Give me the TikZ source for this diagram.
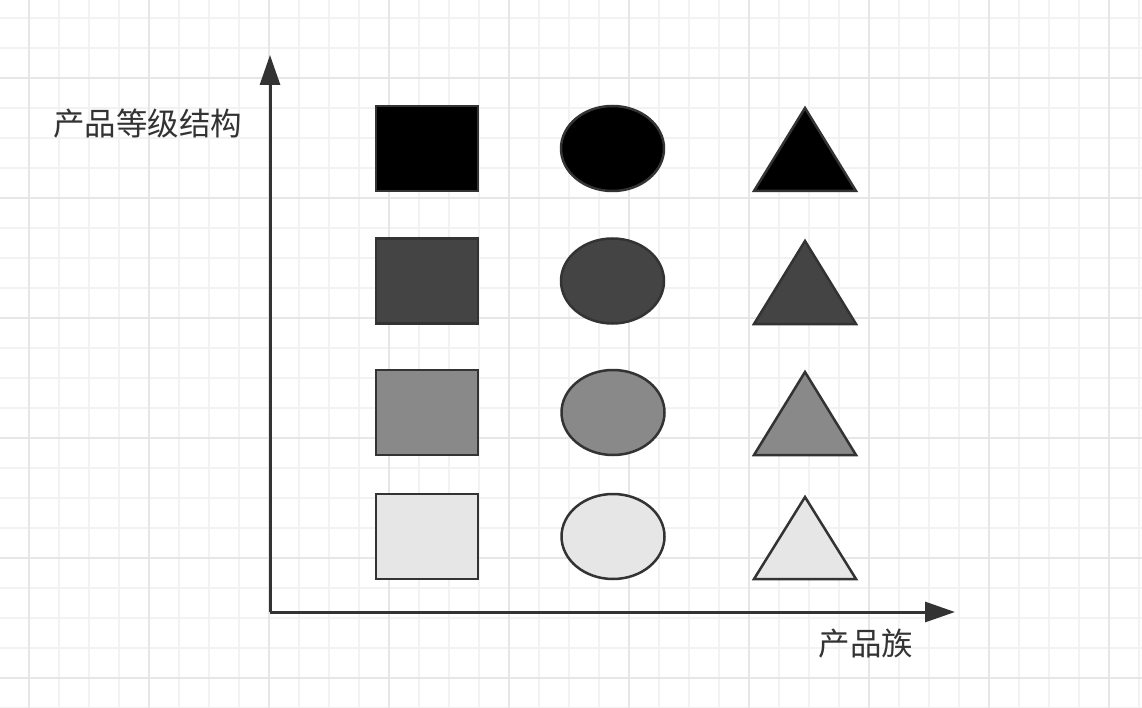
\documentclass[tikz,border=0pt]{standalone}
\usepackage{fontspec}
\newfontfamily\cjk{Noto Sans CJK SC}
\usetikzlibrary{arrows.meta,shapes.geometric}
\definecolor{gridminor}{HTML}{F2F2F2}
\definecolor{gridmajor}{HTML}{E6E6E6}
\definecolor{ink}{HTML}{333333}
\definecolor{shadeA}{HTML}{000000}
\definecolor{shadeB}{HTML}{444444}
\definecolor{shadeC}{HTML}{898989}
\definecolor{shadeD}{HTML}{E6E6E6}
\tikzset{
  minorline/.style={gridminor, line width=1.5pt},
  majorline/.style={gridmajor, line width=2pt},
  axisline/.style={ink, line width=3pt, -{Triangle[length=30pt,width=20pt]}},
  sqbox/.style={rectangle, draw=ink, line width=2.5pt, minimum width=102pt, minimum height=85pt, inner sep=0pt},
  ovalbox/.style={ellipse, draw=ink, line width=2.5pt, minimum width=103pt, minimum height=85pt, inner sep=0pt},
  tri/.style={draw=ink, line width=2.5pt, line join=miter},
  lbl/.style={text=ink, inner sep=0pt, font=\cjk\fontsize{31.5}{31.5}\selectfont}
}
\begin{document}
\begin{tikzpicture}[x=1pt,y=-1pt]
\useasboundingbox (0,0) rectangle (1142,708);
\fill[white] (0,0) rectangle (1142,708);
% grid
\foreach \gx in {29,59,...,1139} \draw[minorline] (\gx,0) -- (\gx,708);
\foreach \gy in {18,48,...,708} \draw[minorline] (0,\gy) -- (1142,\gy);
\foreach \gx in {29,149,...,1109} \draw[majorline] (\gx,0) -- (\gx,708);
\foreach \gy in {78,198,...,678} \draw[majorline] (0,\gy) -- (1142,\gy);
% axes
\coordinate (o) at (270,612);
\coordinate (ytip) at (270,55);
\coordinate (xtip) at (955,612);
\draw[axisline] (o) -- (ytip);
\draw[axisline] (o) -- (xtip);
% labels
\node[lbl] (ylabel) at (147.5,124) {产品等级结构};
\node[lbl] (xlabel) at (866,644) {产品族};
% squares
\node[sqbox, fill=shadeA] (s1) at (427,148.5) {};
\node[sqbox, fill=shadeB] (s2) at (427,281) {};
\node[sqbox, fill=shadeC] (s3) at (427,412.5) {};
\node[sqbox, fill=shadeD] (s4) at (427,536.5) {};
% ellipses
\node[ovalbox, fill=shadeA] (e1) at (612.5,148.5) {};
\node[ovalbox, fill=shadeB] (e2) at (612.5,281) {};
\node[ovalbox, fill=shadeC] (e3) at (613,412.5) {};
\node[ovalbox, fill=shadeD] (e4) at (613,536.5) {};
% triangles
\draw[tri, fill=shadeA] (805,108) -- (856,191) -- (754,191) -- cycle;
\draw[tri, fill=shadeB] (805,241) -- (856,324) -- (754,324) -- cycle;
\draw[tri, fill=shadeC] (805,372) -- (856,455) -- (754,455) -- cycle;
\draw[tri, fill=shadeD] (805,497) -- (856,579) -- (754,579) -- cycle;
\end{tikzpicture}
\end{document}
